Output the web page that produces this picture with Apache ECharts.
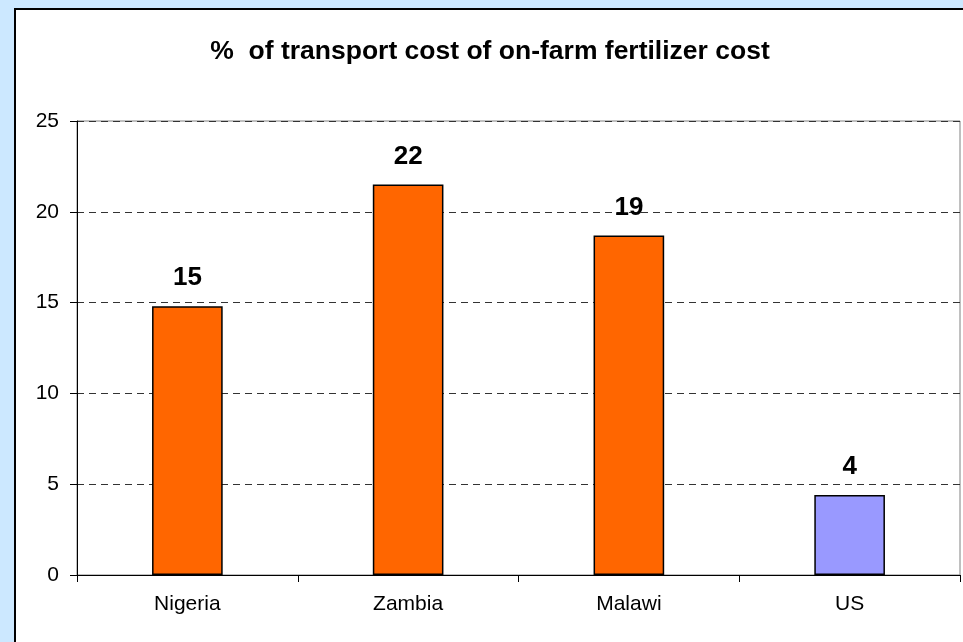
<!DOCTYPE html>
<html>
<head>
<meta charset="utf-8">
<script src="https://cdn.jsdelivr.net/npm/echarts@6/dist/echarts.min.js"></script>
<style>
html,body{margin:0;padding:0;background:#CCE8FF;}
#chart{width:963px;height:642px;}
</style>
</head>
<body>
<div id="chart"></div>
<script>
const titleText = '%  of transport cost of on-farm fertilizer cost';
const categories = ['Nigeria', 'Zambia', 'Malawi', 'US'];
const values = [14.8, 21.5, 18.7, 4.4];
const barColors = ['#FF6600', '#FF6600', '#FF6600', '#9999FF'];
const yTicks = { min: 0, max: 25, interval: 5 };

const chart = echarts.init(document.getElementById('chart'), null, { renderer: 'canvas' });
const font = '"Liberation Sans", Arial, sans-serif';
chart.setOption({
  backgroundColor: '#CCE8FF',
  animation: false,
  graphic: [{
    type: 'rect', z: -10, silent: true,
    shape: { x: 15, y: 9, width: 960, height: 650 },
    style: { fill: '#FFFFFF', stroke: '#000000', lineWidth: 2 }
  }],
  title: {
    text: titleText,
    left: 485, top: 33, textAlign: 'center',
    textStyle: { fontFamily: font, fontSize: 26.5, fontWeight: 'bold', color: '#000' }
  },
  grid: {
    left: 77, top: 121, right: 3, bottom: 67,
    show: true, borderColor: '#808080', borderWidth: 1, backgroundColor: 'transparent'
  },
  xAxis: {
    type: 'category',
    data: categories,
    axisLine: { lineStyle: { color: '#000', width: 1 } },
    axisTick: { show: true, length: 7, alignWithLabel: false, lineStyle: { color: '#000' } },
    axisLabel: { fontFamily: font, fontSize: 21, color: '#000', margin: 19 }
  },
  yAxis: {
    type: 'value',
    min: yTicks.min, max: yTicks.max, interval: yTicks.interval,
    axisLine: { show: true, lineStyle: { color: '#000', width: 1 } },
    axisTick: { show: true, length: 7, lineStyle: { color: '#000' } },
    axisLabel: { fontFamily: font, fontSize: 21, color: '#000', margin: 18 },
    splitLine: { show: true, lineStyle: { color: '#333', type: [7, 5], width: 1 } }
  },
  series: [{
    type: 'bar',
    data: values.map((v, i) => ({ value: v, itemStyle: { color: barColors[i] } })),
    barWidth: '32%',
    itemStyle: { borderColor: '#000', borderWidth: 1.5 },
    label: {
      show: true, position: 'top', distance: 15,
      formatter: p => Math.round(p.value),
      fontFamily: font, fontSize: 26, fontWeight: 'bold', color: '#000'
    }
  }]
});
</script>
</body>
</html>
